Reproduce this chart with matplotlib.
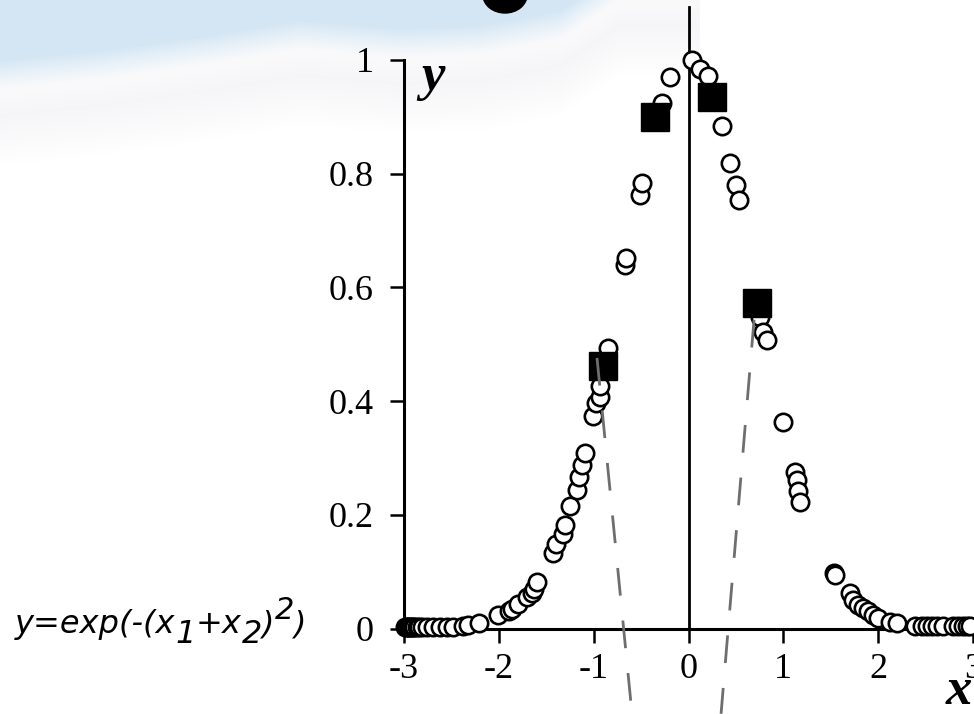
import matplotlib
matplotlib.use('Agg')
import matplotlib.pyplot as plt
from matplotlib.patches import Ellipse
import numpy as np

plt.rcParams['axes.unicode_minus'] = False
plt.rcParams['lines.scale_dashes'] = False

# open circles (sampled points)
circle_x = [-2.990, -2.973, -2.960, -2.945, -2.938, -2.920, -2.906, -2.890, -2.867, -2.840,
            -2.814, -2.762, -2.695, -2.621, -2.551, -2.484, -2.379, -2.326, -2.207,
            -2.006, -1.890, -1.862, -1.795, -1.707, -1.654, -1.625, -1.601,
            -1.426, -1.398, -1.327, -1.303, -1.250, -1.179, -1.152, -1.127, -1.092,
            -1.004, -0.976, -0.934, -0.934, -0.852, -0.670, -0.659, -0.512, -0.494,
            -0.283, -0.195, 0.040, 0.121, 0.203, 0.350, 0.438, 0.501, 0.530,
            0.754, 0.789, 0.825, 1.000, 1.123, 1.141, 1.158, 1.176,
            1.535, 1.545, 1.704, 1.738, 1.791, 1.844, 1.897, 1.949, 2.002, 2.126, 2.196,
            2.389, 2.460, 2.513, 2.565, 2.618, 2.688, 2.793, 2.846, 2.899, 2.934, 2.969]
circle_y = [0.003, 0.003, 0.003, 0.003, 0.003, 0.003, 0.003, 0.003, 0.003, 0.003,
            0.003, 0.003, 0.003, 0.003, 0.003, 0.003, 0.004, 0.007, 0.009,
            0.024, 0.031, 0.035, 0.043, 0.055, 0.063, 0.070, 0.082,
            0.133, 0.149, 0.167, 0.182, 0.215, 0.244, 0.267, 0.288, 0.308,
            0.374, 0.396, 0.408, 0.427, 0.494, 0.640, 0.652, 0.763, 0.784,
            0.924, 0.970, 1.000, 0.985, 0.972, 0.884, 0.818, 0.780, 0.754,
            0.548, 0.522, 0.507, 0.364, 0.276, 0.261, 0.241, 0.223,
            0.097, 0.094, 0.062, 0.050, 0.041, 0.036, 0.030, 0.024, 0.018, 0.012, 0.009,
            0.004, 0.004, 0.004, 0.004, 0.004, 0.004, 0.004, 0.004, 0.004, 0.004, 0.004]

# filled squares
square_x = [-0.901, -0.350, 0.245, 0.723]
square_y = [0.461, 0.900, 0.935, 0.573]

# dashed lines
dash_left_x = [-0.965, -0.596]
dash_left_y = [0.476, -0.150]
dash_right_x = [0.691, 0.343]
dash_right_y = [0.543, -0.150]

xticks = [-3, -2, -1, 0, 1, 2, 3]
xtick_labels = ['-3', '-2', '-1', '0', '1', '2', '3']
yticks = [0, 0.2, 0.4, 0.6, 0.8, 1]
ytick_labels = ['0', '0.2', '0.4', '0.6', '0.8', '1']

W, H = 974, 714
fig = plt.figure(figsize=(W / 100, H / 100), dpi=100)

# background: pale sky at top left fading into white
bg = fig.add_axes([0, 0, 1, 1])
bg.axis('off')
yy, xx = np.mgrid[0:H, 0:W].astype(float)
edge = np.interp(xx, [0, 100, 200, 300, 400, 480, 560, 620, 974],
                 [90, 80, 66, 50, 58, 55, 40, 0, 0])
blue = np.clip((edge - yy) / 30.0, 0, 1) * 0.75
haze = np.clip(1 - np.abs(yy - edge - 25) / 50.0, 0, 1) * (xx < 700) * 0.45
img = np.ones((H, W, 3))
sky = np.array([0.78, 0.87, 0.94])
mist = np.array([0.92, 0.91, 0.93])
img = img * (1 - haze[..., None]) + mist * haze[..., None]
img = img * (1 - blue[..., None]) + sky * blue[..., None]
bg.imshow(img, extent=[0, W, H, 0], aspect='auto')
bg.set_xlim(0, W)
bg.set_ylim(H, 0)
bg.add_patch(Ellipse((505, -5), 44, 36, color='black'))

ax = fig.add_axes([404 / W, 1 - 628.5 / H, 1 - 404 / W, (628.5 - 60) / H])
ax.patch.set_alpha(0)
ax.set_xlim(-3, 3.01)
ax.set_ylim(0, 1)
for s in ['top', 'right']:
    ax.spines[s].set_visible(False)
for s in ['left', 'bottom']:
    ax.spines[s].set_linewidth(2.2)

ax.set_xticks(xticks)
ax.set_xticklabels(xtick_labels)
ax.set_yticks(yticks)
ax.set_yticklabels(ytick_labels)
ax.tick_params(axis='both', direction='out', length=10, width=1.8,
               labelsize=26)
ax.tick_params(axis='x', pad=8)
ax.tick_params(axis='y', pad=12)
for lab in ax.get_xticklabels() + ax.get_yticklabels():
    lab.set_family('Liberation Serif')

# vertical line through x = 0
ax.plot([0, 0], [0, 1.093], color='black', lw=2, clip_on=False, zorder=2)

ax.plot(circle_x, circle_y, 'o', ms=12.5, mfc='white', mec='black', mew=1.9,
        clip_on=False, zorder=3)
ax.plot(square_x, square_y, 's', ms=20.5, color='black', clip_on=False, zorder=4)
ax.plot(dash_left_x, dash_left_y, color='#6e6e6e', lw=2.0, dashes=(20, 18),
        clip_on=False, zorder=5)
ax.plot(dash_right_x, dash_right_y, color='#6e6e6e', lw=2.0, dashes=(20, 18),
        clip_on=False, zorder=5)

ax.text(-2.69, 0.97, 'y', family='Liberation Serif', style='italic',
        weight='bold', fontsize=38, ha='center', va='center')
ax.text(2.85, -0.11, 'x', family='Liberation Serif', style='italic',
        weight='bold', fontsize=38, ha='center', va='center', clip_on=False)

# formula on the left, drawn piece by piece
renderer = fig.canvas.get_renderer()
pieces = [('y=exp(-(x', 0, 23), ('1', 10, 23), ('+x', 0, 23), ('2', 10, 23),
          (')', 0, 23), ('2', -14, 22), (')', 0, 23)]
px = 15
for txt, dy, size in pieces:
    t = fig.text(px / W, 1 - (633 + dy) / H, txt, family='DejaVu Sans',
                 style='italic', fontsize=size, va='baseline', ha='left')
    px += t.get_window_extent(renderer).width

fig.savefig('out.png', dpi=100)
